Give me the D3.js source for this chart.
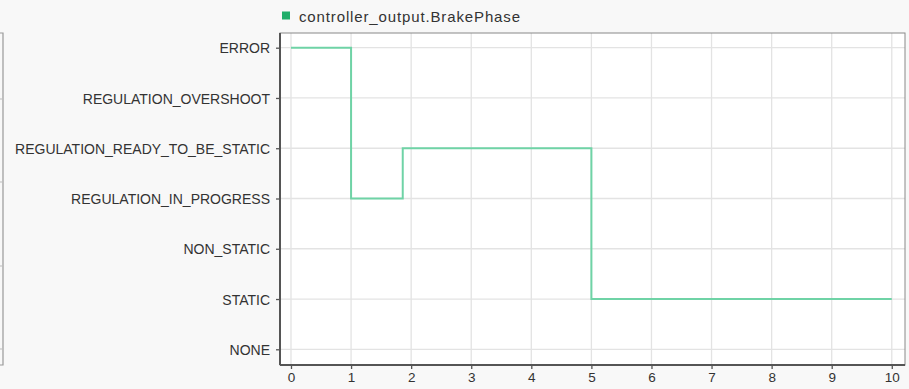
<!DOCTYPE html>
<html><head><meta charset="utf-8">
<script src="https://cdn.jsdelivr.net/npm/d3@7"></script>
<style>
html,body{margin:0;padding:0;background:#f8f8f8;}
svg{display:block;}
text{font-family:"Liberation Sans",Arial,sans-serif;fill:#333;}
</style></head>
<body><svg id="c" width="909" height="389"></svg>
<script>
const seriesName = "controller_output.BrakePhase";
const categories = ["NONE","STATIC","NON_STATIC","REGULATION_IN_PROGRESS","REGULATION_READY_TO_BE_STATIC","REGULATION_OVERSHOOT","ERROR"];
const times  = [0, 1, 1.86, 5, 10];
const states = ["ERROR","REGULATION_IN_PROGRESS","REGULATION_READY_TO_BE_STATIC","STATIC","STATIC"];
const xTicks = [0,1,2,3,4,5,6,7,8,9,10];

const svg = d3.select("#c");
const L = 280, R = 905, T = 33, B = 365;

// left neighbouring panel edge
svg.append("path").attr("d","M-2,33H3V365H-2").attr("fill","none").attr("stroke","#999").attr("stroke-width",1.2);
[99,182,266,349].forEach(y=>svg.append("line").attr("x1",-1).attr("x2",2).attr("y1",y).attr("y2",y).attr("stroke","#bbb"));

svg.append("rect").attr("x",L).attr("y",T).attr("width",R-L).attr("height",B-T).attr("fill","#fff");

const x = d3.scaleLinear().domain([-0.183, 10.22]).range([L, R]);
const y = d3.scalePoint().domain(categories).range([349.3, 47.7]);

// grid
const g = svg.append("g");
xTicks.forEach(t=>g.append("line").attr("x1",x(t)).attr("x2",x(t)).attr("y1",T).attr("y2",B).attr("stroke","#e3e3e3").attr("stroke-width",1.3));
categories.forEach(c=>g.append("line").attr("x1",L).attr("x2",R).attr("y1",y(c)).attr("y2",y(c)).attr("stroke","#e3e3e3").attr("stroke-width",1.3));

// frame
svg.append("rect").attr("x",L).attr("y",T).attr("width",R-L).attr("height",B-T).attr("fill","none").attr("stroke","#888").attr("stroke-width",1);

// axes
const xa = svg.append("g").attr("transform",`translate(0,${B})`)
  .call(d3.axisBottom(x).tickValues(xTicks).tickSize(4).tickPadding(3).tickFormat(d3.format("d")));
const ya = svg.append("g").attr("transform",`translate(${L},0)`)
  .call(d3.axisLeft(y).tickSize(4).tickPadding(6));
[xa,ya].forEach(a=>{
  a.select(".domain").attr("stroke","#555").attr("stroke-width",2);
  a.selectAll(".tick line").attr("stroke","#555").attr("stroke-width",1.3);
  a.selectAll("text").attr("fill","#333").style("font-family","'Liberation Sans',Arial,sans-serif");
});
ya.selectAll("text").attr("font-size",14).attr("dy","0.36em");
xa.selectAll("text").attr("font-size",13.5);
ya.select(".domain").attr("d",`M0,${T}V${B}`);
xa.select(".domain").attr("d",`M${L},0H${R}`);

// step line
const pts = times.map((t,i)=>[t,states[i]]);
const line = d3.line().x(d=>x(d[0])).y(d=>y(d[1])).curve(d3.curveStepAfter);
svg.append("path").datum(pts).attr("d",line).attr("fill","none").attr("stroke","#6fd3a6").attr("stroke-width",2);

// legend
svg.append("rect").attr("x",282).attr("y",11.5).attr("width",8).attr("height",8).attr("fill","#1fae6a");
svg.append("text").attr("x",299).attr("y",22).attr("font-size",15)
  .attr("textLength",221).attr("lengthAdjust","spacing").text(seriesName);
</script></body></html>
